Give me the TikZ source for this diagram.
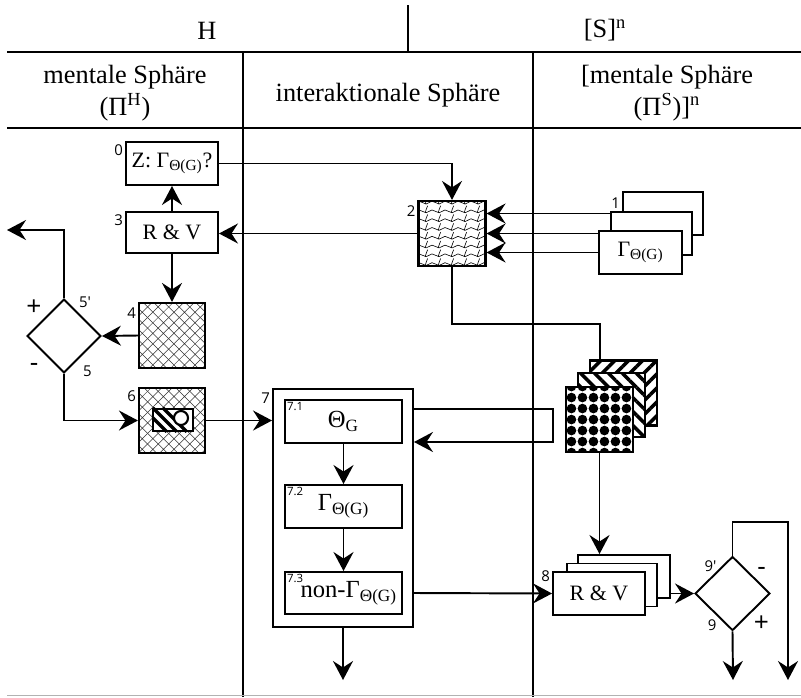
\documentclass[tikz,border=0pt]{standalone}
\usepackage{fontspec}
\setmainfont{Liberation Serif}
\newfontfamily\lblfont{Open Sans}
\usetikzlibrary{arrows.meta, shapes.geometric, patterns.meta, calc}

\def\px{0.02cm}

% Fill patterns of the marked boxes
\tikzdeclarepattern{
  name=lattice, type=uncolored,
  bounding box={(-0.2pt,-0.2pt) and (6.2pt,6.2pt)},
  tile size={(6pt,6pt)},
  code={\draw[line width=0.3pt] (0,0) -- (6pt,6pt) (0,6pt) -- (6pt,0);}
}
\tikzdeclarepattern{
  name=squiggle, type=uncolored,
  bounding box={(-0.3pt,-0.3pt) and (7.7pt,5.3pt)},
  tile size={(7.4pt,5pt)},
  code={\draw[line width=0.35pt] (0,1.4pt) .. controls (1.8pt,4.2pt) and (5.6pt,-1.4pt) .. (7.4pt,1.4pt);
        \draw[line width=0.35pt] (5.2pt,0.6pt) .. controls (6.4pt,1.8pt) and (5.2pt,3.4pt) .. (6.6pt,4.6pt);}
}
\tikzdeclarepattern{
  name=blobs, type=uncolored,
  bounding box={(0,0) and (6.2pt,6.2pt)},
  tile size={(6.2pt,6.2pt)},
  code={\fill (3.1pt,3.1pt) circle[radius=2.75pt];}
}

\begin{document}
\begin{tikzpicture}[x=\px, y=-\px, >={Stealth[length=3.8mm, width=4mm, inset=1.3mm]},
  line/.style={line width=1.1pt},
  sz/.style 2 args={minimum width=#1*\px, minimum height=#2*\px},
  box/.style={draw, line width=1.1pt, fill=white, inner sep=0pt, font=\fontsize{12.5}{14}\selectfont},
  tile/.style={draw, line width=1.2pt, inner sep=0pt, preaction={fill=white}},
  decide/.style={diamond, draw, line width=1.1pt, inner sep=0pt, sz={74}{74}},
  head/.style={font=\fontsize{15}{18}\selectfont, align=center},
  numlbl/.style={font=\lblfont\fontsize{8.5}{9}\selectfont, inner sep=1pt},
  sublbl/.style={font=\lblfont\fontsize{6.5}{7}\selectfont, inner sep=1.5pt},
  sign/.style={font=\lblfont\fontsize{15}{16}\selectfont, inner sep=0pt}]

\useasboundingbox (0,0) rectangle (801,697);

% Table rules
\draw[line] (7,52) -- (801,52);
\draw[line] (7,128) -- (801,128);
\draw[line] (408,5) -- (408,52);
\draw[line] (243,52) -- (243,697);
\draw[line] (533,52) -- (533,697);
\draw[gray!60, line width=0.8pt] (7,695.5) -- (801,695.5);

% Headings
\node[head] (hH) at (207,31) {H};
\node[head] (hS) at (605,30) {[S]\textsuperscript{n}};
\node[head] (colH) at (125,93) {mentale Sphäre\\(Π\textsuperscript{H})};
\node[head] (colI) at (388,95) {interaktionale Sphäre};
\node[head] (colS) at (667,93) {[mentale Sphäre\\(Π\textsuperscript{S})]\textsuperscript{n}};

% --- mental sphere H: goal and evaluation ---
\node[box, sz={92}{43}] (box0) at (172,163.5) {Z: Γ\textsubscript{Θ(G)}?};
\node[box, sz={92}{41}] (box3) at (172,232.5) {R \& V};
\node[tile, sz={67}{65}, pattern=squiggle] (box2) at (452,233.5) {};
\node[numlbl, anchor=north east] (n0) at ([shift={(0,2)}]box0.north west) {0};
\node[numlbl, anchor=north east] (n3) at ([shift={(0,2)}]box3.north west) {3};
\node[numlbl, anchor=north east] (n2) at ([shift={(0,4)}]box2.north west) {2};

\draw[->, line] (box3.north) -- (box0.south);
\draw[->, line] (box0.east) -| (box2.north);
\draw[->, line] (box2.west) -- (box2.west -| box3.east);

% Stack 1 (mental sphere S)
\node[box, sz={80}{43}] (s1b) at (663,213.5) {};
\draw[->, line] (s1b.west) -- (s1b.west -| box2.east);
\node[box, sz={81}{43}] (s1m) at (651.5,233.5) {};
\draw[->, line] (s1m.west) -- (s1m.west -| box2.east);
\node[box, sz={83}{43}] (s1f) at (640.5,252.5) {Γ\textsubscript{Θ(G)}};
\draw[->, line] (s1f.west) -- (s1f.west -| box2.east);
\node[numlbl, anchor=south east] (n1) at (s1b.west |- s1m.north) {1};

% Decision 5
\node[tile, sz={66}{65}, pattern=lattice, pattern color=black!80] (box4) at (172,335.5) {};
\node[numlbl, anchor=north east] (n4) at ([shift={(0,4)}]box4.north west) {4};
\node[decide] (d5) at (64,336) {};
\coordinate (outH) at (7,230);
\draw[->, line] (box3.south) -- (box4.north);
\draw[->, line] (box4.west) -- (d5.east);
\draw[->, line] (d5.north) |- (outH);
\node[numlbl, anchor=west] (n5a) at ([shift={(13,4)}]d5.north) {5'};
\node[numlbl, anchor=west] (n5b) at ([shift={(17,-3)}]d5.south) {5};
\node[sign] (p5) at ([shift={(-30,10)}]d5.north) {+};
\node[sign] (m5) at ([shift={(-30,-6)}]d5.south) {-};

% Box 6 with its inset
\node[tile, sz={66}{65}, pattern=lattice, pattern color=black!80] (box6) at (172,420.5) {};
\node[numlbl, anchor=north east] (n6) at ([shift={(0,2)}]box6.north west) {6};
\node[box, sz={40}{22}, line width=1.4pt] (box6in) at (173,420) {};
\begin{scope}
  \clip (box6in.south west) rectangle (box6in.north east);
  \foreach \dx in {-9,1,11}
    \draw[line width=2pt] ($(box6in.north west)+(\dx,0)$) -- ++(24,24);
\end{scope}
\node[circle, draw, fill=white, line width=1.2pt, inner sep=0pt, minimum size=14*\px] (lens) at (181,418) {};
\draw[->, line] (d5.south) |- (box6.west);

% --- interactional sphere: box 7 ---
\node[box, sz={140}{238}] (box7) at (343,508) {};
\node[numlbl, anchor=north east] (n7) at ([shift={(0,3)}]box7.north west) {7};
\node[box, sz={117}{43}] (b71) at (343.5,421.5) {\fontsize{14}{15}\selectfont\raisebox{-3pt}{Θ\textsubscript{G}}};
\node[box, sz={117}{43}] (b72) at (343.5,506.5) {\fontsize{14}{15}\selectfont\raisebox{-2pt}{Γ\textsubscript{Θ(G)}}};
\node[box, sz={117}{42}] (b73) at (343.5,593) {\fontsize{14}{15}\selectfont\raisebox{-4pt}{\hspace{6pt}non-Γ\textsubscript{Θ(G)}}};
\node[sublbl, anchor=north west] (n71) at (b71.north west) {7.1};
\node[sublbl, anchor=north west] (n72) at (b72.north west) {7.2};
\node[sublbl, anchor=north west] (n73) at (b73.north west) {7.3};
\draw[->, line] (box6.east) -- (box6.east -| box7.west);
\draw[->, line] (b71.south) -- (b72.north);
\draw[->, line] (b72.south) -- (b73.north);
\coordinate (out7) at (343,680);
\draw[->, line] (box7.south) -- (out7);

% Loop back into box 7
\coordinate (loopT) at (553,409);
\coordinate (loopB) at (553,442);
\draw[->, line] (box7.east |- loopT) -- (loopT) -- (loopB) -- (box7.east |- loopB);

% --- mental sphere S: stack of patterned tiles ---
\node[tile, sz={67}{65}, pattern={Lines[angle=45, distance=5.6pt, line width=2pt]}] (st3) at (623.5,393) {};
\node[tile, sz={67}{64}, pattern={Lines[angle=-45, distance=5.6pt, line width=2pt]}] (st2) at (611.5,405) {};
\node[tile, sz={67}{65}, pattern=blobs] (st1) at (599.5,419.5) {};
\coordinate (jn) at (600,324);
\draw[line] (box2.south) |- (jn) -- (jn |- st3.north);

% Stack 8 and decision 9
\node[box, sz={92}{43}] (rv3) at (624,576.5) {};
\node[box, sz={90}{43}] (rv2) at (612,585) {};
\node[box, sz={92}{43}] (rv1) at (599,593.5) {R \& V};
\node[numlbl, anchor=north east] (n8) at ([shift={(0,-2)}]rv1.north west) {8};
\draw[->, line] (st1.south) -- (st1.south |- rv3.north);
\draw[->, line] (box7.east |- b73) -- (rv1.west);

\node[decide, sz={75}{74}] (d9) at (732.5,593.5) {};
\draw[->, line] (rv3.east |- d9.west) -- (d9.west);
\coordinate (top9) at (788,522);
\coordinate (out9a) at (733,680);
\coordinate (out9b) at (788,680);
\draw[->, line] (d9.north) |- (top9) -- (out9b);
\draw[->, line] (d9.south) -- (out9a);
\node[numlbl, anchor=east] (n9a) at ([shift={(-14,11)}]d9.north) {9'};
\node[numlbl, anchor=east] (n9b) at ([shift={(-14,-6)}]d9.south) {9};
\node[sign] (m9) at ([shift={(29,16)}]d9.north) {-};
\node[sign] (p9) at ([shift={(29,-8)}]d9.south) {+};

\end{tikzpicture}
\end{document}
